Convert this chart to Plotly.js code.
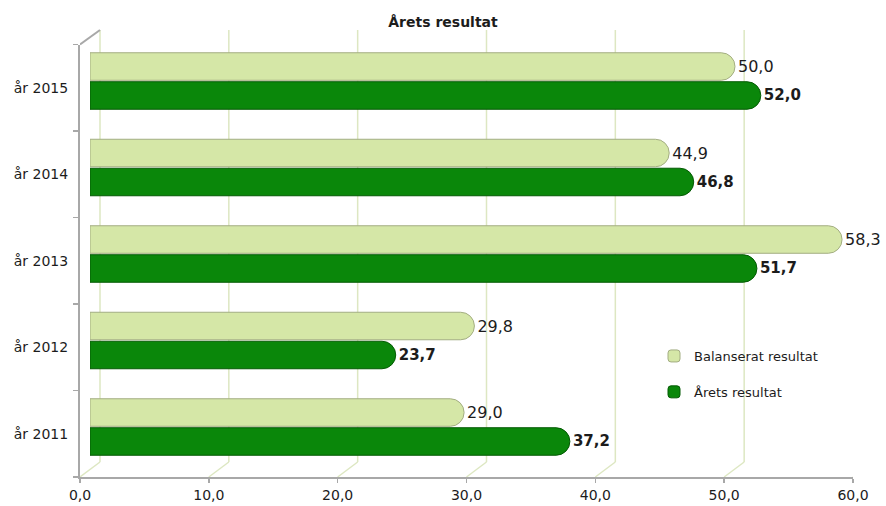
<!DOCTYPE html>
<html>
<head>
<meta charset="utf-8">
<script src="https://cdn.plot.ly/plotly-3.0.1.min.js"></script>
<style>html,body{margin:0;padding:0;background:#fff}#chart{width:886px;height:506px}</style>
</head>
<body>
<div id="chart"></div>
<script>
const years = ['år 2011', 'år 2012', 'år 2013', 'år 2014', 'år 2015'];
const balanserat = [29.0, 29.8, 58.3, 44.9, 50.0];
const arets = [37.2, 23.7, 51.7, 46.8, 52.0];
const xTicks = [0, 10, 20, 30, 40, 50, 60];
const seriesNames = ['Balanserat resultat', 'Årets resultat'];
const chartTitle = 'Årets resultat';

const W = 886, H = 506;
const px = v => v / W;
const py = v => (H - v) / H;
const gridCol = '#dde7c2';
const axisCol = '#a8a8a8';
const txtCol = '#1c1c1c';

const traces = [
  { // invisible anchor for the front (labelled) axes
    type: 'scatter', mode: 'markers', x: balanserat, y: years,
    xaxis: 'x2', yaxis: 'y2', marker: {opacity: 0}, hoverinfo: 'skip', showlegend: false
  },
  {
    type: 'bar', orientation: 'h', name: seriesNames[1], legendgroup: 'a', legendrank: 2,
    y: years, x: arets, xaxis: 'x3', yaxis: 'y3',
    marker: {color: '#0a870a', line: {color: '#045a04', width: 1}, cornerradius: '50%'},
    texttemplate: '%{x:.1f}', textposition: 'outside', cliponaxis: false,
    textfont: {family: 'DejaVu Sans', size: 15, weight: 'bold', color: txtCol}
  },
  {
    type: 'bar', orientation: 'h', name: seriesNames[0], legendgroup: 'b', legendrank: 1,
    y: years, x: balanserat, xaxis: 'x3', yaxis: 'y3',
    marker: {color: '#d5e7a7', line: {color: '#a3ad82', width: 1}, cornerradius: '50%'},
    texttemplate: '%{x:.1f}', textposition: 'outside', cliponaxis: false,
    textfont: {family: 'DejaVu Sans', size: 16, color: txtCol}
  }
];

const shapes = [];
xTicks.forEach(k => {
  // floor diagonal from front tick to back wall
  shapes.push({
    type: 'line', xref: 'x2', xsizemode: 'pixel', xanchor: k, x0: 0, x1: 20,
    yref: 'paper', y0: py(477), y1: py(462), line: {color: gridCol, width: 1.5}, layer: 'below'
  });
  // back-wall vertical gridline
  shapes.push({
    type: 'line', xref: 'x2', xsizemode: 'pixel', xanchor: k, x0: 20, x1: 20,
    yref: 'paper', y0: py(462), y1: py(30), line: {color: gridCol, width: 1.5}, layer: 'below'
  });
});
shapes.push({
  type: 'line', xref: 'x2', xsizemode: 'pixel', xanchor: 0, x0: 0, x1: 20,
  yref: 'paper', y0: py(44.5), y1: py(30), line: {color: axisCol, width: 2}
});

const layout = {
  width: W, height: H,
  margin: {l: 0, r: 0, t: 0, b: 0},
  paper_bgcolor: '#ffffff', plot_bgcolor: 'rgba(0,0,0,0)',
  separators: ',.',
  font: {family: 'DejaVu Sans', color: txtCol, size: 14},
  title: {text: chartTitle, x: 0.5, xref: 'paper', y: py(22), yref: 'paper', yanchor: 'middle',
          font: {family: 'DejaVu Sans', size: 14, weight: 'bold', color: txtCol}},
  showlegend: true,
  legend: {x: px(654), xanchor: 'left', y: py(341), yanchor: 'top',
           traceorder: 'grouped', tracegroupgap: 16,
           font: {family: 'DejaVu Sans', size: 13, color: txtCol}, bgcolor: 'rgba(0,0,0,0)'},
  barmode: 'group', bargap: 0.33, bargroupgap: 0.05,
  xaxis2: {domain: [px(80), px(853)], range: [0, 60], anchor: 'y2', tickvals: xTicks,
           tickformat: '.1f', showline: true, linecolor: axisCol, linewidth: 2,
           ticks: 'outside', ticklen: 4, tickcolor: axisCol, tickwidth: 1.5,
           showgrid: false, zeroline: false, tickfont: {size: 14, color: txtCol}},
  yaxis2: {domain: [py(477), py(44.5)], anchor: 'x2', type: 'category', range: [-0.5, 4.5],
           categoryorder: 'array', categoryarray: years,
           showline: true, linecolor: axisCol, linewidth: 2, ticks: 'outside',
           tickson: 'boundaries', ticklen: 5, tickcolor: axisCol, tickwidth: 1.5,
           ticklabelstandoff: 7,
           showgrid: false, zeroline: false, tickfont: {size: 14, color: txtCol}},
  xaxis3: {domain: [px(90), px(864)], range: [0, 60], anchor: 'y3', visible: false},
  yaxis3: {domain: [py(470.25), py(37.75)], anchor: 'x3', type: 'category', range: [-0.5, 4.5],
           categoryorder: 'array', categoryarray: years, visible: false},
  shapes: shapes
};

Plotly.newPlot('chart', traces, layout, {displayModeBar: false, staticPlot: true});
</script>
</body>
</html>
